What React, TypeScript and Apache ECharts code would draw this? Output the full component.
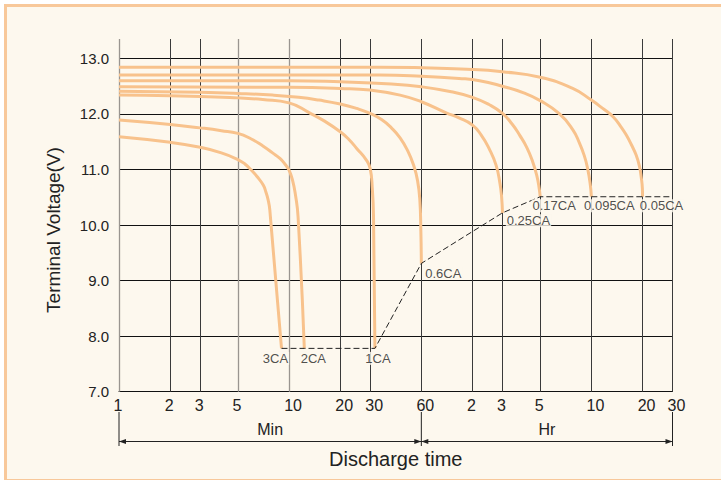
import React, { useEffect, useRef } from 'react';
import * as echarts from 'echarts';

// ---- data ----
const curveNames = ['3CA', '2CA', '1CA', '0.6CA', '0.25CA', '0.17CA', '0.095CA', '0.05CA'];

const c3CA = [[1, 11.59], [2, 11.49], [3, 11.4], [4, 11.3], [5, 11.18], [5.5, 11.1], [6, 10.99], [6.5, 10.87], [7.05, 10.72], [7.3, 10.6], [7.54, 10.45], [7.71, 10.27], [9.03, 7.78]];
const c2CA = [[1, 11.89], [2, 11.81], [3, 11.75], [4, 11.7], [5, 11.65], [6, 11.55], [7.05, 11.42], [8, 11.3], [8.84, 11.2], [9.5, 11.09], [10, 10.99], [10.5, 10.8], [10.9, 10.55], [11.3, 10.15], [12.3, 7.78]];
const c1CA = [[1, 12.34], [2, 12.33], [5, 12.29], [7, 12.26], [10, 12.2], [13.2, 12.02], [16, 11.88], [20, 11.68], [22.5, 11.54], [25, 11.38], [28.5, 11.17], [30, 11.02], [30.9, 10.65], [31.4, 10.15], [32, 7.78]];
const c06CA = [[1, 12.41], [3, 12.39], [5, 12.37], [8, 12.34], [11.4, 12.3], [15, 12.25], [20, 12.18], [25, 12.1], [30, 12.01], [35, 11.9], [40, 11.75], [45, 11.57], [50, 11.33], [54, 11.08], [57, 10.8], [58.8, 10.45], [59.6, 9.9], [60, 9.31]];
const c025CA = [[1, 12.49], [10, 12.48], [20, 12.46], [30, 12.43], [45, 12.34], [60, 12.22], [84, 12.02], [100, 11.93], [120, 11.8], [135, 11.62], [150, 11.38], [165, 11.08], [174, 10.75], [178, 10.5], [180, 10.22]];
const c017CA = [[1, 12.6], [10, 12.6], [20, 12.58], [40, 12.54], [60, 12.49], [90, 12.4], [120, 12.3], [150, 12.17], [180, 12.01], [205, 11.82], [227, 11.62], [250, 11.4], [271, 11.14], [287, 10.88], [296, 10.66], [300, 10.51]];
const c0095CA = [[1, 12.7], [34, 12.7], [60, 12.68], [100, 12.64], [132, 12.6], [180, 12.5], [240, 12.38], [300, 12.24], [390, 12.0], [466, 11.72], [510, 11.48], [545, 11.25], [570, 11.02], [590, 10.75], [600, 10.51]];
const c005CA = [[1, 12.84], [34, 12.84], [120, 12.8], [180, 12.76], [300, 12.66], [466, 12.46], [600, 12.25], [700, 12.1], [805, 11.95], [900, 11.76], [963, 11.62], [1030, 11.45], [1100, 11.26], [1150, 11.06], [1180, 10.85], [1197, 10.66], [1200, 10.51]];

const curves = [c3CA, c2CA, c1CA, c06CA, c025CA, c017CA, c0095CA, c005CA];

// end-of-discharge (cut-off) dashed line
const cutoffLine = [[9.03, 7.78], [12.3, 7.78], [32, 7.78], [60, 9.31], [180, 10.22], [300, 10.51], [600, 10.51], [1200, 10.51], [1800, 10.51]];

// x ticks (minutes), labels as printed (min then hr)
const xTickValues = [1, 2, 3, 5, 10, 20, 30, 60, 120, 180, 300, 600, 1200, 1800];
const xTickLabels = ['1', '2', '3', '5', '10', '20', '30', '60', '2', '3', '5', '10', '20', '30'];
const lightTickValues = [1, 5, 10];

const yMin = 7;
const yMax = 13.35;
const yInterval = 1;

// ---- styles ----
const FONT = '"Liberation Sans", Arial, Helvetica, sans-serif';
const CURVE = '#f8c28c';
const INK = '#222';
const labelOffsets = [[-6, 0], [9, 0], [3, 0], [22, 0], [26, -2], [14, -1], [18, -1], [19, -1]];

export default function App() {
  const ref = useRef<HTMLDivElement>(null);

  useEffect(() => {
    const el = ref.current;
    if (!el) return;
    const chart = echarts.init(el, null, { renderer: 'svg' });

    const curveSeries = curves.map((c, i) => ({
      type: 'line',
      name: curveNames[i],
      data: c,
      symbol: 'none',
      showSymbol: false,
      smooth: 0.5,
      lineStyle: { color: CURVE, width: 3 },
      z: 10,
      silent: true,
    }));

    const labelData = curves.map((c, i) => ({
      value: c[c.length - 1],
      name: curveNames[i],
      label: { offset: labelOffsets[i] },
    }));

    chart.setOption({
      animation: false,
      backgroundColor: 'transparent',
      grid: { left: 119, right: 48.5, top: 39, bottom: 88.3, outerBoundsMode: 'none', containLabel: false },
      xAxis: {
        type: 'log',
        logBase: 10,
        min: 1,
        max: 1800,
        axisLine: { show: true, lineStyle: { color: '#111', width: 1 } },
        axisTick: { show: false },
        axisLabel: { show: false },
        splitLine: { show: false },
        minorTick: { show: false },
        minorSplitLine: { show: false },
      },
      yAxis: {
        type: 'value',
        min: yMin,
        max: yMax,
        interval: yInterval,
        axisLine: { show: false },
        axisTick: { show: false },
        axisLabel: {
          formatter: (v: number) => v.toFixed(1),
          fontSize: 15,
          color: INK,
          fontFamily: FONT,
          margin: 10,
          showMaxLabel: false,
        },
        splitLine: { show: true, showMaxLine: false, lineStyle: { color: '#111', width: 1 } },
      },
      series: [
        ...curveSeries,
        {
          type: 'line',
          name: 'cutoff',
          data: cutoffLine,
          symbol: 'none',
          showSymbol: false,
          lineStyle: { color: INK, width: 1, type: [6, 3] },
          z: 11,
          silent: true,
          markLine: {
            silent: true,
            symbol: 'none',
            animation: false,
            lineStyle: { type: 'solid', width: 1, color: '#3a3a3a' },
            label: {
              show: true,
              position: 'start',
              distance: 6,
              color: INK,
              fontSize: 16,
              fontFamily: FONT,
              formatter: (p: any) => p.name,
            },
            data: xTickValues.map((v, i) => ({
              xAxis: v,
              name: xTickLabels[i],
              lineStyle: { color: lightTickValues.includes(v) ? '#9a9590' : '#3a3a3a', width: lightTickValues.includes(v) ? 1.3 : 1 },
              label: { offset: [xTickLabels[i].length > 1 ? 4 : -1, 0] },
            })),
          },
        },
        {
          type: 'scatter',
          name: 'labels',
          data: labelData,
          symbolSize: 1,
          itemStyle: { color: 'rgba(0,0,0,0)' },
          z: 12,
          silent: true,
          label: {
            show: true,
            position: 'bottom',
            distance: 3,
            formatter: (p: any) => p.name,
            fontSize: 13,
            color: INK,
            fontFamily: FONT,
            backgroundColor: '#fdf8ee',
            padding: [0, 1],
          },
        },
      ],
    });

    const px = (v: number) => chart.convertToPixel({ xAxisIndex: 0 }, v) as number;
    const x1 = px(1);
    const x60 = px(60);
    const xEnd = px(1800);
    const yLine = 441.5;
    const arrow = (tip: number, dir: number) => ({
      type: 'polygon',
      shape: { points: [[tip, yLine], [tip - dir * 7, yLine - 2.5], [tip - dir * 7, yLine + 2.5]] },
      style: { fill: INK },
    });
    const vline = (x: number) => ({
      type: 'line',
      shape: { x1: x, y1: 412, x2: x, y2: 446 },
      style: { stroke: INK, lineWidth: 1 },
    });

    chart.setOption({
      graphic: [
        {
          type: 'text',
          x: 53,
          y: 230,
          rotation: Math.PI / 2,
          style: { text: 'Terminal Voltage(V)', fill: INK, font: `19px ${FONT}`, align: 'center', verticalAlign: 'middle' },
        },
        vline(x1),
        vline(x60),
        vline(xEnd),
        { type: 'line', shape: { x1: x1, y1: yLine, x2: xEnd, y2: yLine }, style: { stroke: INK, lineWidth: 1 } },
        arrow(x1, -1),
        arrow(x60, 1),
        arrow(x60, -1),
        arrow(xEnd, 1),
        {
          type: 'text',
          x: (x1 + x60) / 2,
          y: 429,
          style: { text: 'Min', fill: INK, font: `16px ${FONT}`, align: 'center', verticalAlign: 'middle' },
        },
        {
          type: 'text',
          x: (x60 + xEnd) / 2,
          y: 429,
          style: { text: 'Hr', fill: INK, font: `16px ${FONT}`, align: 'center', verticalAlign: 'middle' },
        },
        {
          type: 'text',
          x: (x1 + xEnd) / 2,
          y: 458.5,
          style: { text: 'Discharge time', fill: INK, font: `20px ${FONT}`, align: 'center', verticalAlign: 'middle' },
        },
      ],
    });

    return () => chart.dispose();
  }, []);

  return (
    <div style={{ position: 'fixed', left: 0, top: 0, width: 721, height: 480, background: '#fff', overflow: 'hidden' }}>
      <div
        style={{
          position: 'absolute',
          left: 4,
          top: 4,
          width: 730,
          height: 472,
          border: '3px solid #f8c89a',
          background: '#fdf8ee',
        }}
      />
      <div ref={ref} style={{ position: 'absolute', left: 0, top: 0, width: 721, height: 480 }} />
    </div>
  );
}
